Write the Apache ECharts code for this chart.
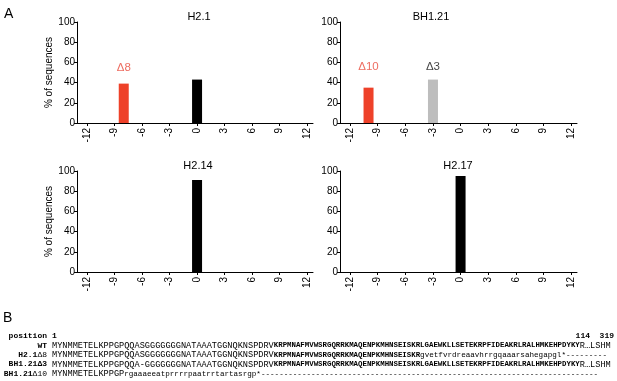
<!DOCTYPE html>
<html>
<head>
<meta charset="utf-8">
<script src="https://cdn.jsdelivr.net/npm/echarts@6/dist/echarts.min.js"></script>
<style>
  html, body { margin: 0; background: #fff; }
  #main { width: 617px; height: 381px; }
</style>
</head>
<body>
<div id="main"></div>
<script>
// panel A: indel size per clone vs % of sequences
const panelNames = ['H2.1', 'BH1.21', 'H2.14', 'H2.17']
const xTicks = [-12, -9, -6, -3, 0, 3, 6, 9, 12]
const barPos = [[-8, 0], [-10, -3], [0], [0]]
const barPct = [[39, 43], [35, 43], [91], [95]]
const barKind = [['red', 'black'], ['red', 'gray'], ['black'], ['black']]
const noteText = ['Δ8', 'Δ10', 'Δ3']
const notePanel = [0, 1, 1]
const notePos = [-8, -10, -3]
const notePct = [55, 56, 56]
const noteKind = ['red', 'red', 'black']

// panel B: alignment
const seqLabels = [
  [['WT', 'n']],
  [['H2.1', 'n'], ['Δ8', 'r']],
  [['BH1.21Δ3', 'n']],
  [['BH1.21', 'n'], ['Δ10', 'r']]
]
const seqRows = [
  [['MYNMMETELKPPGPQQASGGGGGGGNATAAATGGNQKNSPDRV', 'k'], ['KRPMNAFMVWSRGQRRKMAQENPKMHNSEISKRLGAEWKLLSETEKRPFIDEAKRLRALHMKEHPDYKY', 'b'], ['R…LSHM', 'k']],
  [['MYNMMETELKPPGPQQASGGGGGGGNATAAATGGNQKNSPDRV', 'k'], ['KRPMNAFMVWSRGQRRKMAQENPKMHNSEISKR', 'b'], ['gvetfvrdreaavhrrgqaaarsahegapgl*---------', 'l']],
  [['MYNMMETELKPPGPQQA-GGGGGGGNATAAATGGNQKNSPDRV', 'k'], ['KRPMNAFMVWSRGQRRKMAQENPKMHNSEISKRLGAEWKLLSETEKRPFIDEAKRLRALHMKEHPDYKY', 'b'], ['R…LSHM', 'k']],
  [['MYNMMETELKPPGP', 'k'], ['rgaaaeeatprrrrpaatrrtartasrgp*' + '-'.repeat(74), 'l']]
]
const posMarks = ['1', '114', '319']

const colors = { red: '#ee4129', black: '#000000', gray: '#bdbdbd' }
const textRed = '#e8493a'
const blue = '#3a6cc0'
const sans = '"Liberation Sans", Arial, sans-serif'
const mono = '"Liberation Mono", "Courier New", monospace'

const grids = [
  { left: 77, top: 22, width: 236, height: 101 },
  { left: 340, top: 22, width: 237, height: 101 },
  { left: 77, top: 171, width: 236, height: 101 },
  { left: 340, top: 171, width: 237, height: 101 }
]
const titleX = [199, 431, 198, 458]

const myChart = echarts.init(document.getElementById('main'))

const xAxis = grids.map((g, i) => ({
  type: 'value',
  gridIndex: i,
  min: -13.1,
  max: 12.65,
  splitLine: { show: false },
  axisLine: { show: true, onZero: false, lineStyle: { color: '#000', width: 1 } },
  axisTick: { show: true, customValues: xTicks, length: 3, lineStyle: { color: '#000' } },
  axisLabel: {
    customValues: xTicks,
    rotate: 90,
    margin: 5,
    fontSize: 10,
    fontFamily: sans,
    color: '#000'
  }
}))

const yAxis = grids.map((g, i) => ({
  type: 'value',
  gridIndex: i,
  min: 0,
  max: 100,
  interval: 20,
  name: i % 2 === 0 ? '% of sequences' : '',
  nameLocation: 'middle',
  nameGap: 18,
  nameTextStyle: { fontSize: 10, fontFamily: sans, color: '#000' },
  splitLine: { show: false },
  axisLine: { show: true, onZero: false, lineStyle: { color: '#000', width: 1 } },
  axisTick: { show: true, length: 3, lineStyle: { color: '#000' } },
  axisLabel: { fontSize: 10, margin: 2, fontFamily: sans, color: '#000' }
}))

const series = grids.map((g, i) => ({
  type: 'bar',
  xAxisIndex: i,
  yAxisIndex: i,
  barWidth: 10,
  data: barPos[i].map((x, j) => ({
    value: [x, barPct[i][j]],
    itemStyle: { color: colors[barKind[i][j]] }
  }))
}))

notePanel.forEach((p, k) => {
  series.push({
    type: 'scatter',
    xAxisIndex: p,
    yAxisIndex: p,
    symbolSize: 0,
    silent: true,
    data: [[notePos[k], notePct[k]]],
    label: {
      show: true,
      position: 'inside',
      formatter: noteText[k],
      fontSize: 11.5,
      fontFamily: sans,
      color: noteKind[k] === 'red' ? textRed : '#111'
    }
  })
})

const graphic = []
graphic.push({ type: 'text', x: 4, y: 7, style: { text: 'A', font: '14px ' + sans, fill: '#000' } })
graphic.push({ type: 'text', x: 3, y: 311, style: { text: 'B', font: '14px ' + sans, fill: '#000' } })
panelNames.forEach((n, i) => {
  graphic.push({
    type: 'text',
    x: titleX[i],
    y: grids[i].top - 5,
    style: { text: n, font: '11px ' + sans, fill: '#000', align: 'center', verticalAlign: 'middle' }
  })
})

const rowY0 = 345.5
const rowStep = 9.4
const labelRich = {
  n: { fontFamily: mono, fontSize: 8, fontWeight: 'bold', color: '#000' },
  r: { fontFamily: mono, fontSize: 8, color: textRed }
}
const seqRich = {
  k: { fontFamily: mono, fontSize: 8.6, color: '#222' },
  b: { fontFamily: mono, fontSize: 7.4, fontWeight: 'bold', color: blue },
  l: { fontFamily: mono, fontSize: 7.6, color: '#222' }
}
const toRich = (segs) => segs.map(([t, s]) => '{' + s + '|' + t + '}').join('')

// header row
graphic.push({
  type: 'text', x: 47, y: rowY0 - rowStep,
  style: { text: '{n|position}', rich: labelRich, align: 'right', verticalAlign: 'middle' }
})
graphic.push({
  type: 'text', x: 52, y: rowY0 - rowStep,
  style: { text: '{n|' + posMarks[0] + '}', rich: labelRich, align: 'left', verticalAlign: 'middle' }
})
graphic.push({
  type: 'text', x: 614, y: rowY0 - rowStep,
  style: { text: '{n|' + posMarks[1] + '  ' + posMarks[2] + '}', rich: labelRich, align: 'right', verticalAlign: 'middle' }
})

seqRows.forEach((row, i) => {
  const y = rowY0 + i * rowStep
  graphic.push({
    type: 'text', x: 47, y: y,
    style: { text: toRich(seqLabels[i]), rich: labelRich, align: 'right', verticalAlign: 'middle' }
  })
  graphic.push({
    type: 'text', x: 52, y: y,
    style: { text: toRich(row), rich: seqRich, align: 'left', verticalAlign: 'middle' }
  })
})

myChart.setOption({
  animation: false,
  backgroundColor: '#fff',
  grid: grids,
  xAxis: xAxis,
  yAxis: yAxis,
  series: series,
  graphic: graphic
})
</script>
</body>
</html>
